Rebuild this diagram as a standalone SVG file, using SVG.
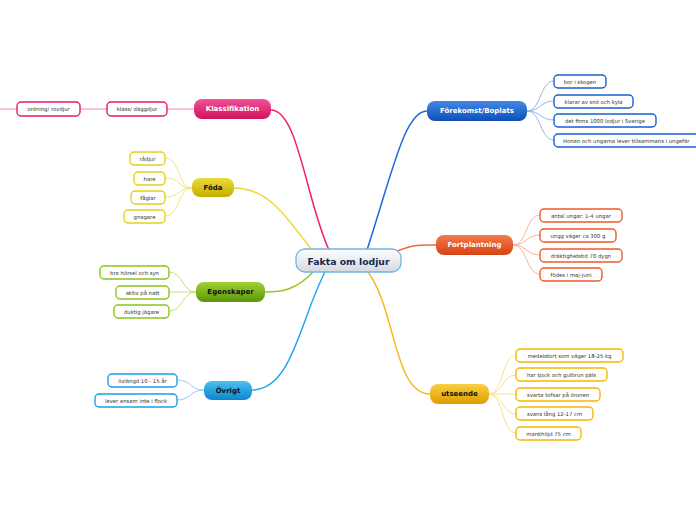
<svg xmlns="http://www.w3.org/2000/svg" width="696" height="520" viewBox="0 0 696 520">
<defs>
<linearGradient id="gC" x1="0" y1="0" x2="0" y2="1"><stop offset="0" stop-color="#ffffff"/><stop offset="1" stop-color="#d3d9e0"/></linearGradient>
<linearGradient id="gPink" x1="0" y1="0" x2="0" y2="1"><stop offset="0" stop-color="#f2529c"/><stop offset="1" stop-color="#d0115c"/></linearGradient>
<linearGradient id="gYel" x1="0" y1="0" x2="0" y2="1"><stop offset="0" stop-color="#eadc3a"/><stop offset="1" stop-color="#c6ad00"/></linearGradient>
<linearGradient id="gGrn" x1="0" y1="0" x2="0" y2="1"><stop offset="0" stop-color="#a2d034"/><stop offset="1" stop-color="#5a960a"/></linearGradient>
<linearGradient id="gLbl" x1="0" y1="0" x2="0" y2="1"><stop offset="0" stop-color="#4cc0f4"/><stop offset="1" stop-color="#0c86cc"/></linearGradient>
<linearGradient id="gBlu" x1="0" y1="0" x2="0" y2="1"><stop offset="0" stop-color="#4288e6"/><stop offset="1" stop-color="#0f4fb6"/></linearGradient>
<linearGradient id="gOrg" x1="0" y1="0" x2="0" y2="1"><stop offset="0" stop-color="#f47a4c"/><stop offset="1" stop-color="#d64216"/></linearGradient>
<linearGradient id="gAmb" x1="0" y1="0" x2="0" y2="1"><stop offset="0" stop-color="#fad040"/><stop offset="1" stop-color="#dc9c00"/></linearGradient>
</defs>
<style>
text{font-family:"DejaVu Sans","Liberation Sans",sans-serif;text-anchor:middle;dominant-baseline:central}
.c{font-size:5.3px;fill:#333}
.m{font-size:7px;font-weight:bold}
.w{fill:#ffffff}
.k{fill:#111111}
.ch{fill:#ffffff;stroke-width:1.4}
.mc{fill:none;stroke-width:1.5}
.sc{fill:none;stroke-width:0.9}
</style>
<g id="connectors">
<path class="mc" stroke="#ee1f78" d="M271,110 C298,110 306,200 329,250"/>
<path class="mc" stroke="#eed630" d="M234,188 C270,188 288,220 312,250"/>
<path class="mc" stroke="#96c828" d="M313,272 C296,290 282,292 265,292"/>
<path class="mc" stroke="#20a8ee" d="M325,272 C300,320 292,390 252,390"/>
<path class="mc" stroke="#1d68e0" d="M427,111 C405,111 393,170 367,250"/>
<path class="mc" stroke="#f06840" d="M397,251 C414,244 420,245 436,245"/>
<path class="mc" stroke="#f8b820" d="M368,272 C396,310 394,394 430,394"/>
<path class="sc" stroke="#f27aaa" d="M194,109 L167,109 M107,109 L80,109 M17,109 L0,109"/>
<g stroke="#f0e070">
<path class="sc" d="M192,188 C178,188 180,158 165,158"/>
<path class="sc" d="M192,188 C178,188 180,178 165,178"/>
<path class="sc" d="M192,188 C178,188 180,197 165,197"/>
<path class="sc" d="M192,188 C178,188 180,216 165,216"/>
</g>
<g stroke="#bcdc78">
<path class="sc" d="M196,292 C182,292 183,272 169,272"/>
<path class="sc" d="M196,292 C182,292 183,292 169,292"/>
<path class="sc" d="M196,292 C182,292 183,311 169,311"/>
</g>
<g stroke="#86ccf2">
<path class="sc" d="M204,390 C190,390 191,380 177,380"/>
<path class="sc" d="M204,390 C190,390 191,400 177,400"/>
</g>
<g stroke="#88aeea">
<path class="sc" d="M527,111 C541,111 540,81 554,81"/>
<path class="sc" d="M527,111 C541,111 540,101 554,101"/>
<path class="sc" d="M527,111 C541,111 540,120 554,120"/>
<path class="sc" d="M527,111 C541,111 540,140 554,140"/>
</g>
<g stroke="#f8a888">
<path class="sc" d="M513,245 C527,245 526,215 540,215"/>
<path class="sc" d="M513,245 C527,245 526,235 540,235"/>
<path class="sc" d="M513,245 C527,245 526,255 540,255"/>
<path class="sc" d="M513,245 C527,245 526,274 540,274"/>
</g>
<g stroke="#fcdc84">
<path class="sc" d="M489,394 C503,394 502,355 516,355"/>
<path class="sc" d="M489,394 C503,394 502,375 516,375"/>
<path class="sc" d="M489,394 C503,394 502,394 516,394"/>
<path class="sc" d="M489,394 C503,394 502,414 516,414"/>
<path class="sc" d="M489,394 C503,394 502,433 516,433"/>
</g>
</g>
<g id="center">
<rect x="296" y="249" width="105" height="23" rx="9" fill="url(#gC)" stroke="#72b4e2" stroke-width="1.3"/>
<text x="348.5" y="261" style="font-size:9.3px;font-weight:bold;fill:#15284d">Fakta om lodjur</text>
</g>
<g id="klassifikation">
<rect x="194" y="99" width="77" height="20" rx="8" fill="url(#gPink)"/>
<text class="m w" x="232.5" y="109">Klassifikation</text>
</g>
<g id="klass"><rect class="ch" stroke="#e8196f" x="107" y="102" width="60" height="14" rx="4"/><text class="c" x="137" y="109">klass/ däggdjur</text></g>
<g id="ordning"><rect class="ch" stroke="#e8196f" x="17" y="102" width="63" height="14" rx="4"/><text class="c" x="48.5" y="109">ordning/ rovdjur</text></g>
<g id="foda">
<rect x="192" y="178" width="42" height="19" rx="8" fill="url(#gYel)"/>
<text class="m k" x="213" y="188">Föda</text>
</g>
<g id="radjur"><rect class="ch" stroke="#e4d01e" x="130" y="152" width="35" height="13" rx="4"/><text class="c" x="147.5" y="158.5">rådjur</text></g>
<g id="hare"><rect class="ch" stroke="#e4d01e" x="134" y="172" width="31" height="13" rx="4"/><text class="c" x="149.5" y="178.5">hare</text></g>
<g id="faglar"><rect class="ch" stroke="#e4d01e" x="131" y="191" width="34" height="13" rx="4"/><text class="c" x="148" y="197.5">fåglar</text></g>
<g id="gnagare"><rect class="ch" stroke="#e4d01e" x="124" y="210" width="41" height="13" rx="4"/><text class="c" x="144.5" y="216.5">gnagare</text></g>
<g id="egenskaper">
<rect x="196" y="282" width="69" height="20" rx="8" fill="url(#gGrn)"/>
<text class="m k" x="230.5" y="292">Egenskaper</text>
</g>
<g id="horsel"><rect class="ch" stroke="#8cc320" x="100" y="266" width="69" height="13" rx="4"/><text class="c" x="134.5" y="272.5">bra hörsel och syn</text></g>
<g id="aktiv"><rect class="ch" stroke="#8cc320" x="116" y="286" width="53" height="13" rx="4"/><text class="c" x="142.5" y="292.5">aktiv på natt</text></g>
<g id="jagare"><rect class="ch" stroke="#8cc320" x="114" y="305" width="55" height="13" rx="4"/><text class="c" x="141.5" y="311.5">duktig jägare</text></g>
<g id="ovrigt">
<rect x="204" y="381" width="48" height="19" rx="8" fill="url(#gLbl)"/>
<text class="m k" x="228" y="391">Övrigt</text>
</g>
<g id="livlangd"><rect class="ch" stroke="#1ea0e0" x="108" y="374" width="69" height="13" rx="4"/><text class="c" x="142.5" y="380.5">livlängd 10 - 15 år</text></g>
<g id="ensam"><rect class="ch" stroke="#1ea0e0" x="95" y="394" width="82" height="13" rx="4"/><text class="c" x="136" y="400.5">lever ensam inte i flock</text></g>
<g id="forekomst">
<rect x="427" y="101" width="100" height="20" rx="8" fill="url(#gBlu)"/>
<text class="m w" x="477" y="111">Förekomst/Boplats</text>
</g>
<g id="skogen"><rect class="ch" stroke="#1a5fd0" x="554" y="75" width="52" height="13" rx="4"/><text class="c" x="580" y="81.5">bor i skogen</text></g>
<g id="sno"><rect class="ch" stroke="#1a5fd0" x="554" y="95" width="79" height="13" rx="4"/><text class="c" x="593.5" y="101.5">klarar av snö och kyla</text></g>
<g id="tusen"><rect class="ch" stroke="#1a5fd0" x="554" y="114" width="102" height="13" rx="4"/><text class="c" x="605" y="120.5">det finns 1000 lodjur i Sverige</text></g>
<g id="honan"><rect class="ch" stroke="#1a5fd0" x="554" y="134" width="220" height="13" rx="4"/><text class="c" x="563" y="140.5" style="text-anchor:start">Honan och ungarna lever tillsammans i ungefär</text></g>
<g id="fortplantning">
<rect x="436" y="235" width="77" height="20" rx="8" fill="url(#gOrg)"/>
<text class="m w" x="474.5" y="245">Fortplantning</text>
</g>
<g id="antal"><rect class="ch" stroke="#ee5a2a" x="540" y="209" width="82" height="13" rx="4"/><text class="c" x="581" y="215.5">antal ungar: 1-4 ungar</text></g>
<g id="ungg"><rect class="ch" stroke="#ee5a2a" x="540" y="229" width="76" height="13" rx="4"/><text class="c" x="578" y="235.5">ungg väger ca 300 g</text></g>
<g id="draktighet"><rect class="ch" stroke="#ee5a2a" x="540" y="249" width="82" height="13" rx="4"/><text class="c" x="581" y="255.5">dräktighetstid 70 dygn</text></g>
<g id="fodes"><rect class="ch" stroke="#ee5a2a" x="540" y="268" width="62" height="13" rx="4"/><text class="c" x="571" y="274.5">födes i maj-juni</text></g>
<g id="utseende">
<rect x="430" y="384" width="59" height="20" rx="8" fill="url(#gAmb)"/>
<text class="m k" x="459.5" y="394">utseende</text>
</g>
<g id="medelstort"><rect class="ch" stroke="#f5b800" x="516" y="349" width="107" height="13" rx="4"/><text class="c" x="569.5" y="355.5">medelstort som väger 18-25 kg</text></g>
<g id="pals"><rect class="ch" stroke="#f5b800" x="516" y="368" width="91" height="13" rx="4"/><text class="c" x="561.5" y="374.5">har tjock och gulbrun päls</text></g>
<g id="tofsar"><rect class="ch" stroke="#f5b800" x="516" y="388" width="84" height="13" rx="4"/><text class="c" x="558" y="394.5">svarta tofsar på öronen</text></g>
<g id="svans"><rect class="ch" stroke="#f5b800" x="516" y="407" width="77" height="13" rx="4"/><text class="c" x="554.5" y="413.5">svans lång 12-17 cm</text></g>
<g id="mankhojd"><rect class="ch" stroke="#f5b800" x="516" y="427" width="65" height="13" rx="4"/><text class="c" x="548.5" y="433.5">mankhöjd 75 cm</text></g>
</svg>
